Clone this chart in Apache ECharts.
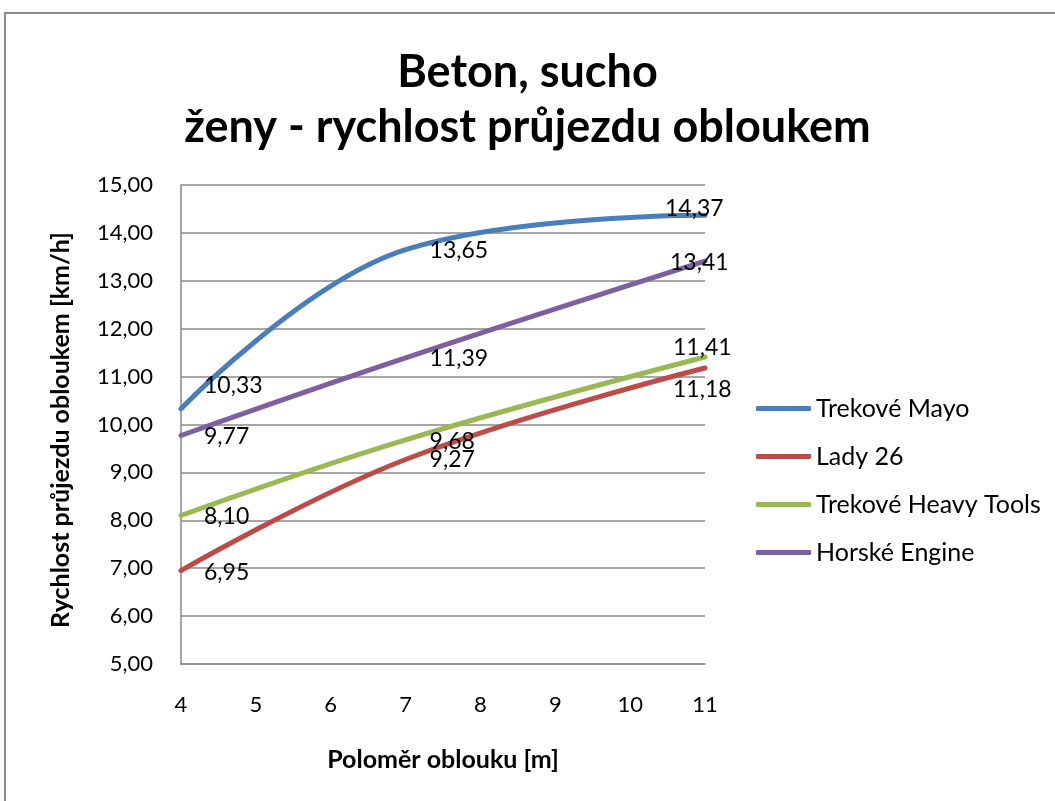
<!DOCTYPE html>
<html>
<head>
<meta charset="utf-8">
<script src="https://cdn.jsdelivr.net/npm/echarts@6/dist/echarts.min.js"></script>
<style>
  html, body { margin: 0; padding: 0; background: #fff; }
  #chart { width: 1055px; height: 801px; }
</style>
</head>
<body>
<div id="chart"></div>
<script>
// poloměr oblouku [m]
const radii = [4, 7, 11];
const seriesNames = ['Trekové Mayo', 'Lady 26', 'Trekové Heavy Tools', 'Horské Engine'];
const mayo = [10.33, 13.65, 14.37];
const lady = [6.95, 9.27, 11.18];
const heavy = [8.10, 9.68, 11.41];
const engine = [9.77, 11.39, 13.41];
const values = [mayo, lady, heavy, engine];
const colors = ['#4a7ebb', '#be4b48', '#98b954', '#7d60a0'];

// where each data label sits relative to its point (text left edge, text middle)
const labelOffsets = [
  [[23, -23], [24, 1], [-40, -7]],
  [[23, 2], [24, 0], [-32, 22]],
  [[23, 1], [24, 2], [-32, -9]],
  [[23, 1], [24, 1], [-35, 1]]
];

const fmt = v => v.toFixed(2).replace('.', ',');
const FONT = 'Lato';

var chart = echarts.init(document.getElementById('chart'));

var series = seriesNames.map(function (name, s) {
  return {
    name: name,
    type: 'line',
    smooth: 0.4,
    symbol: 'circle',
    symbolSize: 2,
    showSymbol: true,
    lineStyle: { width: 5, color: colors[s], cap: 'round' },
    itemStyle: { color: colors[s] },
    label: {
      show: true,
      position: 'inside',
      align: 'left',
      verticalAlign: 'middle',
      color: '#000',
      fontFamily: FONT,
      fontSize: 23,
      formatter: p => fmt(p.value[1])
    },
    emphasis: { disabled: true },
    data: radii.map(function (r, i) {
      return { value: [r, values[s][i]], label: { offset: labelOffsets[s][i] } };
    })
  };
});

var option = {
  animation: false,
  backgroundColor: '#fff',
  title: {
    text: 'Beton, sucho\nženy - rychlost průjezdu obloukem',
    left: 'center',
    top: 40,
    padding: [5, 5, 5, 27],
    textStyle: {
      fontFamily: FONT,
      fontWeight: 'bold',
      fontSize: 45,
      lineHeight: 55,
      color: '#000'
    }
  },
  graphic: [{
    type: 'rect',
    shape: { x: 5, y: 13, width: 1200, height: 1000 },
    style: { fill: 'none', stroke: '#8a8a8a', lineWidth: 2 },
    silent: true
  }, {
    // y axis title
    type: 'text',
    x: 61,
    y: 430,
    rotation: Math.PI / 2,
    style: {
      text: 'Rychlost průjezdu obloukem [km/h]',
      fontFamily: FONT,
      fontWeight: 'bold',
      fontSize: 25,
      fill: '#000',
      align: 'center',
      verticalAlign: 'middle'
    },
    silent: true
  }],
  legend: {
    orient: 'vertical',
    left: 751,
    top: 391,
    itemWidth: 55,
    itemHeight: 5,
    itemGap: 23,
    icon: 'roundRect',
    data: seriesNames,
    textStyle: { fontFamily: FONT, fontSize: 25, color: '#000' }
  },
  grid: { left: 181, right: 350, top: 185, bottom: 137 },
  xAxis: {
    type: 'value',
    min: 4,
    max: 11,
    interval: 1,
    name: 'Poloměr oblouku [m]',
    nameLocation: 'middle',
    nameGap: 83,
    nameTextStyle: { fontFamily: FONT, fontWeight: 'bold', fontSize: 25, color: '#000' },
    axisLine: { lineStyle: { color: '#8a8a8a', width: 1.5 } },
    axisTick: { show: false },
    splitLine: { show: false },
    axisLabel: { fontFamily: FONT, fontSize: 22, color: '#000', margin: 30 }
  },
  yAxis: {
    type: 'value',
    min: 5,
    max: 15,
    interval: 1,
    axisLine: { show: true, lineStyle: { color: '#8a8a8a', width: 1.5 } },
    axisTick: { show: false },
    splitLine: { lineStyle: { color: '#8a8a8a', width: 1.5 } },
    axisLabel: { fontFamily: FONT, fontSize: 22, color: '#000', margin: 28, formatter: fmt }
  },
  series: series
};

chart.setOption(option);
</script>
</body>
</html>
